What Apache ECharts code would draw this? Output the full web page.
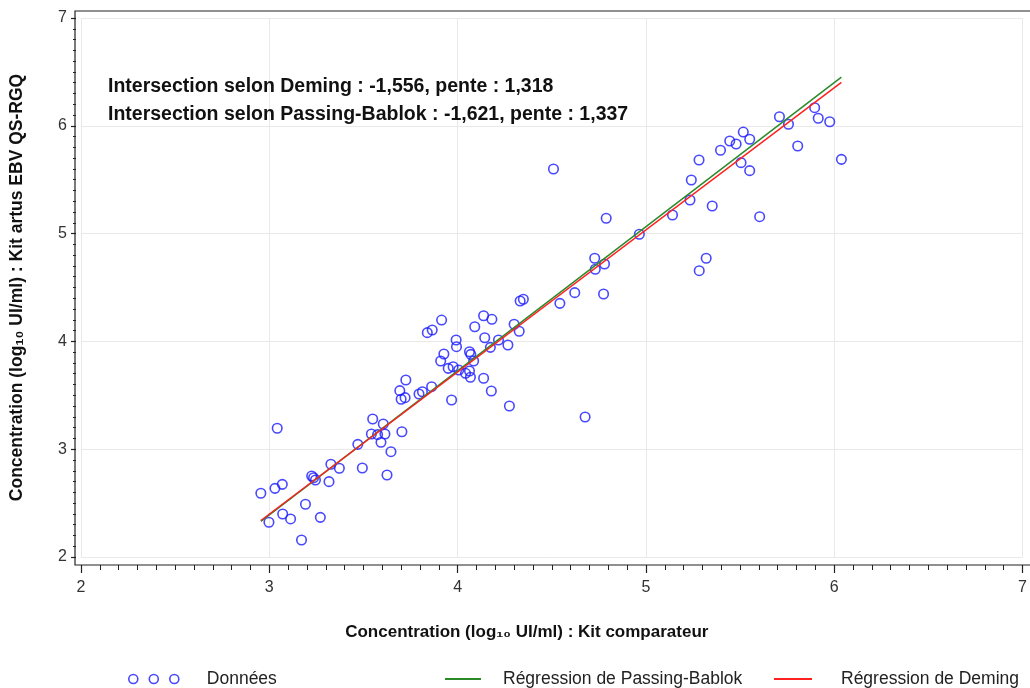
<!DOCTYPE html>
<html>
<head>
<meta charset="utf-8">
<script src="https://cdn.jsdelivr.net/npm/echarts@6/dist/echarts.min.js"></script>
<style>
html,body{margin:0;padding:0;background:#fff;}
#chart{width:1030px;height:688px;}
</style>
</head>
<body>
<div id="chart"></div>
<script>
// ---- data ----
const xValues = [2.955,2.998,3.042,3.030,3.069,3.071,3.113,3.171,3.192,3.225,3.245,3.271,3.317,3.327,3.372,
  3.470,3.494,3.549,3.542,3.575,3.593,3.605,3.614,3.625,3.646,3.704,3.693,3.700,3.725,3.721,
  3.795,3.813,3.865,3.839,3.862,3.915,3.910,3.927,3.968,3.950,3.976,3.992,3.994,4.006,4.042,
  4.063,4.063,4.068,4.085,4.091,4.138,4.144,4.138,4.174,4.182,4.179,4.217,4.267,4.275,4.300,
  4.327,4.332,4.349,4.509,4.543,4.622,4.677,4.728,4.731,4.775,4.780,4.789,4.965,5.141,5.234,
  5.241,5.283,5.282,5.320,5.352,5.396,5.445,5.479,5.505,5.517,5.551,5.551,5.604,5.709,5.757,
  5.806,5.896,5.915,5.976,6.038,3.235,4.070];
const yValues = [2.591,2.322,3.194,2.637,2.674,2.399,2.353,2.158,2.489,2.751,2.714,2.368,2.699,2.860,2.823,
  3.045,2.826,3.280,3.141,3.135,3.064,3.234,3.141,2.761,2.977,3.162,3.543,3.463,3.642,3.478,
  3.512,3.533,4.106,4.081,3.580,4.198,3.818,3.883,3.456,3.750,3.765,4.013,3.951,3.735,3.704,
  3.904,3.725,3.667,3.818,4.136,4.238,4.034,3.658,3.945,4.205,3.540,4.013,3.967,3.401,4.159,
  4.094,4.375,4.391,5.599,4.353,4.452,3.299,4.771,4.669,4.440,4.718,5.142,4.994,5.173,5.312,
  5.497,4.656,5.683,4.771,5.256,5.773,5.859,5.831,5.658,5.942,5.875,5.584,5.157,6.084,6.014,
  5.813,6.168,6.070,6.038,5.689,2.735,3.880];

const regNames = ['Régression de Passing-Bablok', 'Régression de Deming'];
const regIntercepts = [-1.621, -1.556];
const regSlopes = [1.337, 1.318];
const regColors = ['#2a8a2a', '#ff2020'];

const annotationLines = [
  'Intersection selon Deming : -1,556, pente : 1,318',
  'Intersection selon Passing-Bablok : -1,621, pente : 1,337'
];
const xTitle = 'Concentration (log₁₀ UI/ml) : Kit comparateur';
const yTitle = 'Concentration (log₁₀ UI/ml) : Kit artus EBV QS-RGQ';
const dataName = 'Données';

// ---- build ----
const points = xValues.map((x, i) => [x, yValues[i]]);
const xMin = Math.min(...xValues), xMax = Math.max(...xValues);
const regSeries = regNames.map((name, k) => ({
  name: name,
  type: 'line',
  showSymbol: false,
  symbol: 'none',
  silent: true,
  z: 3 + k,
  lineStyle: { color: regColors[k], width: 1.5 },
  itemStyle: { color: regColors[k] },
  data: [[xMin, regIntercepts[k] + regSlopes[k] * xMin], [xMax, regIntercepts[k] + regSlopes[k] * xMax]]
}));

const FONT = "'Liberation Sans',Arial,sans-serif";
const chart = echarts.init(document.getElementById('chart'), null, { renderer: 'canvas' });
const threeCircles = 'path://M0,4.5a4.5,4.5 0 1,0 9,0a4.5,4.5 0 1,0 -9,0M20.5,4.5a4.5,4.5 0 1,0 9,0a4.5,4.5 0 1,0 -9,0M41,4.5a4.5,4.5 0 1,0 9,0a4.5,4.5 0 1,0 -9,0';
const legendText = { fontFamily: FONT, fontSize: 17.5, color: '#222' };

chart.setOption({
  animation: false,
  backgroundColor: '#fff',
  grid: { left: 80, right: 3, top: 18, bottom: 131, containLabel: false },
  title: {
    text: annotationLines.join('\n'),
    left: 108, top: 73, padding: 0,
    textStyle: { fontFamily: FONT, fontWeight: 'bold', fontSize: 19.5, color: '#111', lineHeight: 28 }
  },
  graphic: [{
    type: 'rect', z: 0, silent: true,
    shape: { x: 75, y: 11, width: 960, height: 554 },
    style: { fill: 'none', stroke: '#222', lineWidth: 1.2 }
  }],
  legend: [
    { data: [{ name: dataName, icon: threeCircles }], left: 128, top: 670, padding: 0, itemWidth: 50, itemHeight: 9,
      itemStyle: { color: 'rgba(0,0,0,0)', borderColor: '#1a1aff', borderWidth: 1.6 },
      textStyle: Object.assign({ padding: [0, 0, 0, 23] }, legendText) },
    { data: [{ name: regNames[0], icon: 'rect' }], left: 445, top: 670, padding: 0, itemWidth: 36, itemHeight: 2,
      textStyle: Object.assign({ padding: [0, 0, 0, 17] }, legendText) },
    { data: [{ name: regNames[1], icon: 'rect' }], left: 774, top: 670, padding: 0, itemWidth: 38, itemHeight: 2,
      textStyle: Object.assign({ padding: [0, 0, 0, 24] }, legendText) }
  ],
  xAxis: {
    type: 'value', min: 2, max: 7, interval: 1, offset: 8,
    name: xTitle, nameLocation: 'middle', nameGap: 59,
    nameTextStyle: { fontFamily: FONT, fontWeight: 'bold', fontSize: 17, color: '#111', padding: [0, 50, 0, 0] },
    axisLine: { show: false },
    axisTick: { show: true, length: 8, lineStyle: { color: '#222', width: 1.2 } },
    minorTick: { show: true, splitNumber: 10, length: 5, lineStyle: { color: '#222', width: 1 } },
    axisLabel: { margin: 15, fontFamily: FONT, fontSize: 16, color: '#333' },
    splitLine: { show: true, lineStyle: { color: '#e9e9e9', width: 1 } }
  },
  yAxis: {
    type: 'value', min: 2, max: 7, interval: 1, offset: 5,
    name: yTitle, nameLocation: 'middle', nameGap: 50,
    nameTextStyle: { fontFamily: FONT, fontWeight: 'bold', fontSize: 17.5, color: '#111' },
    axisLine: { show: false },
    axisTick: { show: true, length: 5, lineStyle: { color: '#222', width: 1.2 } },
    minorTick: { show: true, splitNumber: 10, length: 3, lineStyle: { color: '#222', width: 1 } },
    axisLabel: { margin: 9, fontFamily: FONT, fontSize: 16, color: '#333' },
    splitLine: { show: true, lineStyle: { color: '#e9e9e9', width: 1 } }
  },
  series: [{
    name: dataName,
    type: 'scatter',
    symbol: 'circle',
    symbolSize: 9.5,
    z: 2,
    itemStyle: { color: 'rgba(0,0,0,0)', borderColor: '#1a1aff', borderWidth: 1.6 },
    data: points
  }].concat(regSeries)
});
</script>
</body>
</html>
